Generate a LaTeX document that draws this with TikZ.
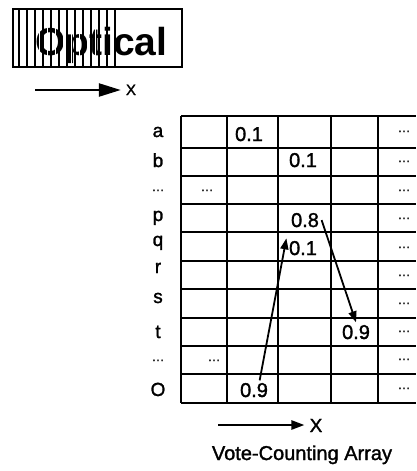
\documentclass[tikz,border=0pt]{standalone}
\usepackage{fontspec}
\setmainfont{Liberation Sans}[UprightFeatures={FakeBold=1.5}]
\usetikzlibrary{arrows.meta,positioning,calc}
\tikzset{
  lbl/.style={font=\fontsize{19}{21}\selectfont,anchor=base,inner sep=0pt},
  num/.style={font=\fontsize{20}{22}\selectfont,anchor=base,inner sep=2.5pt},
  dots/.style={font=\fontsize{13}{15}\selectfont,anchor=base,inner sep=0pt},
  gridline/.style={line width=2.2pt},
  arr/.style={-{Triangle[length=11pt,width=8pt]},line width=1.8pt},
  toparr/.style={-{Triangle[length=22pt,width=13pt]},line width=2.4pt},
  botarr/.style={-{Triangle[length=13pt,width=9pt]},line width=2.4pt},
}

\begin{document}
\begin{tikzpicture}[x=1pt,y=-1pt]
  \useasboundingbox (0,0) rectangle (416,471);
  % word image, cut in columns
  \foreach \x in {19,27,...,115} \draw[line width=2.6pt] (\x,9) -- (\x,67);
  \node[font=\bfseries\fontsize{39}{41}\selectfont,anchor=base west,inner sep=0pt] (word) at (35,55) {Optical};
  \foreach \x in {23,31,...,111} \draw[white,line width=0.5pt] (\x,12) -- (\x,64);
  \draw[line width=2.6pt] (13,9) rectangle (182,67);
  \coordinate (xs) at (35,90);
  \node[lbl,font=\fontsize{15}{17}\selectfont] (xtop) at (131,95) {X};
  \draw[toparr] (xs) -- ([xshift=-5pt]xtop.west |- xs);
  % vote-counting array
  \foreach \y in {116,148,176,204,232,261,289,318,346,374,403}
    \draw[gridline] (181,\y) -- (416,\y);
  \foreach \x in {181,227,278,331,378}
    \draw[gridline] (\x,116) -- (\x,403);
  \foreach \t/\y [count=\i] in {a/137,b/167,p/221,q/246,r/273,s/303,t/338,O/396}
    \node[lbl] (row\i) at (158,\y) {\t};
  \node[dots] (rowgap1) at (158,191) {\ldots};
  \node[dots] (rowgap2) at (158,361) {\ldots};
  \foreach \y [count=\i] in {132,162,191,219,248,276,304,332,360,389}
    \node[dots] (end\i) at (404,\y) {\ldots};
  \node[dots] (gap1) at (207,191) {\ldots};
  \node[dots] (gap2) at (214,361) {\ldots};
  \node[num] (a1) at (249,141) {0.1};
  \node[num] (b1) at (303,167) {0.1};
  \node[num] (p8) at (305,227) {0.8};
  \node[num] (q1) at (303,255) {0.1};
  \node[num] (t9) at (356,339) {0.9};
  \node[num] (o9) at (254,397) {0.9};
  \draw[arr] (o9.60) -- (q1.north west);
  \draw[arr] (p8.east) -- (t9.north);
  \coordinate (xb) at (218,425);
  \node[lbl] (xbot) at (316,432) {X};
  \draw[botarr] (xb) -- ([xshift=-5pt]xbot.west |- xb);
  \node[font=\fontsize{20}{22}\selectfont,anchor=base] (title) at (302,460) {Vote-Counting Array};
\end{tikzpicture}
\end{document}
